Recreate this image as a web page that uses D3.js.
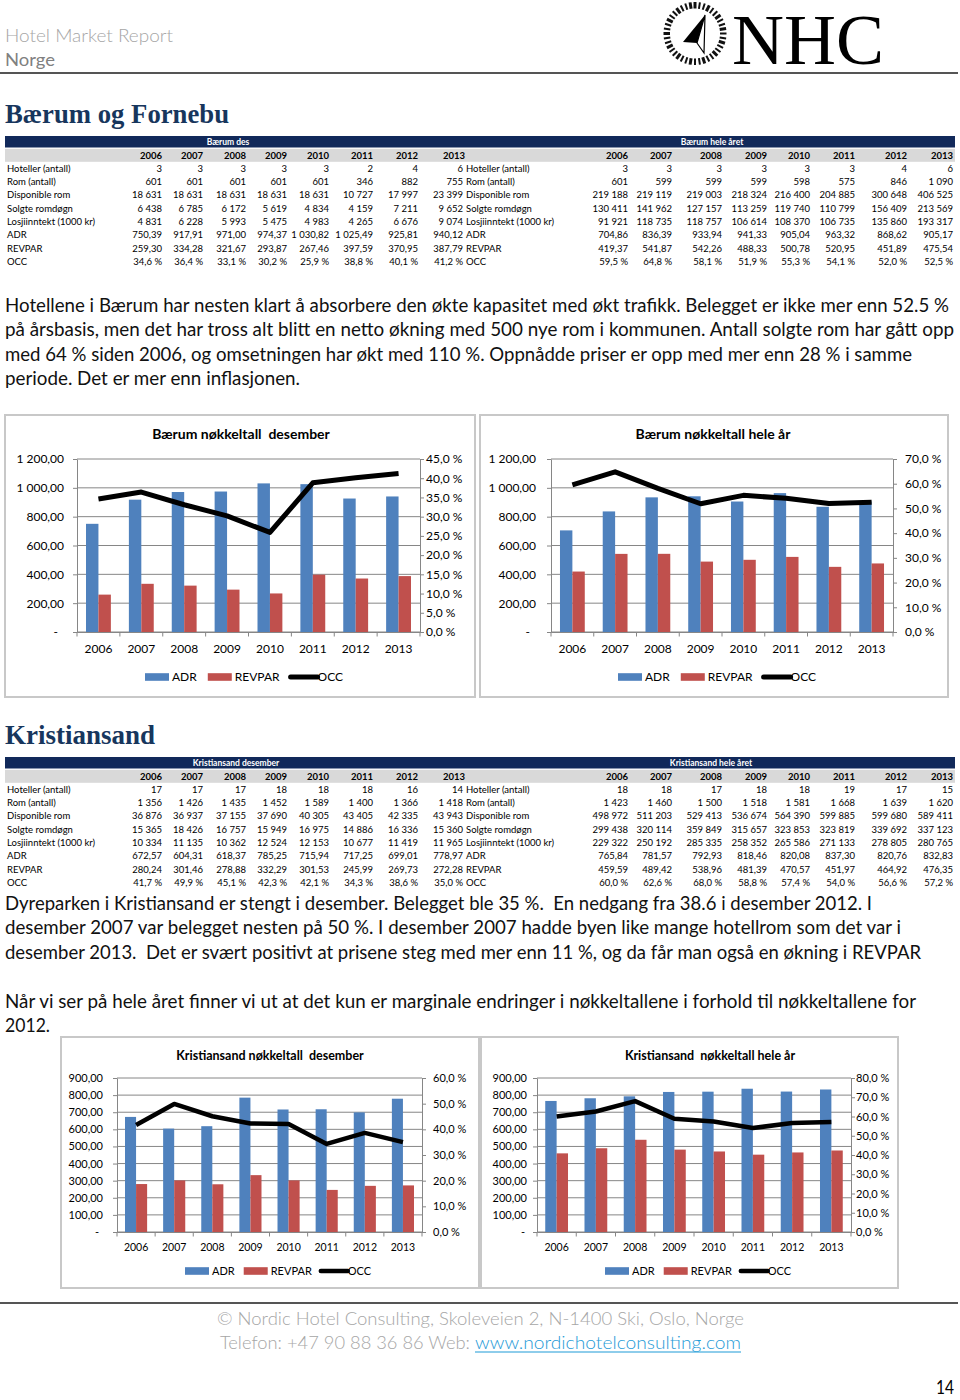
<!DOCTYPE html>
<html><head><meta charset="utf-8">
<script src="https://cdn.jsdelivr.net/npm/d3@7"></script>
<style>
body{margin:0;background:#fff}
svg{display:block}
text{font-family:Lato,"Open Sans",sans-serif;white-space:pre}
</style>
</head><body>
<svg id="page" width="960" height="1400"></svg>
<script>
// ---------------- DATA ----------------
const years = [2006, 2007, 2008, 2009, 2010, 2011, 2012, 2013];
const rowLabels = ["Hoteller (antall)", "Rom (antall)", "Disponible rom", "Solgte romdøgn", "Losjiinntekt (1000 kr)", "ADR", "REVPAR", "OCC"];

// Bærum desember
const bdHotels = [3, 3, 3, 3, 3, 2, 4, 6];
const bdRooms = [601, 601, 601, 601, 601, 346, 882, 755];
const bdAvail = [18631, 18631, 18631, 18631, 18631, 10727, 17997, 23399];
const bdSold = [6438, 6785, 6172, 5619, 4834, 4159, 7211, 9652];
const bdRevenue = [4831, 6228, 5993, 5475, 4983, 4265, 6676, 9074];
const bdADR = [750.39, 917.91, 971.00, 974.37, 1030.82, 1025.49, 925.81, 940.12];
const bdREVPAR = [259.30, 334.28, 321.67, 293.87, 267.46, 397.59, 370.95, 387.79];
const bdOCC = [34.6, 36.4, 33.1, 30.2, 25.9, 38.8, 40.1, 41.2];

// Bærum hele året
const byHotels = [3, 3, 3, 3, 3, 3, 4, 6];
const byRooms = [601, 599, 599, 599, 598, 575, 846, 1090];
const byAvail = [219188, 219119, 219003, 218324, 216400, 204885, 300648, 406525];
const bySold = [130411, 141962, 127157, 113259, 119740, 110799, 156409, 213569];
const byRevenue = [91921, 118735, 118757, 106614, 108370, 106735, 135860, 193317];
const byADR = [704.86, 836.39, 933.94, 941.33, 905.04, 963.32, 868.62, 905.17];
const byREVPAR = [419.37, 541.87, 542.26, 488.33, 500.78, 520.95, 451.89, 475.54];
const byOCC = [59.5, 64.8, 58.1, 51.9, 55.3, 54.1, 52.0, 52.5];

// Kristiansand desember
const kdHotels = [17, 17, 17, 18, 18, 18, 16, 14];
const kdRooms = [1356, 1426, 1435, 1452, 1589, 1400, 1366, 1418];
const kdAvail = [36876, 36937, 37155, 37690, 40305, 43405, 42335, 43943];
const kdSold = [15365, 18426, 16757, 15949, 16975, 14886, 16336, 15360];
const kdRevenue = [10334, 11135, 10362, 12524, 12153, 10677, 11419, 11965];
const kdADR = [672.57, 604.31, 618.37, 785.25, 715.94, 717.25, 699.01, 778.97];
const kdREVPAR = [280.24, 301.46, 278.88, 332.29, 301.53, 245.99, 269.73, 272.28];
const kdOCC = [41.7, 49.9, 45.1, 42.3, 42.1, 34.3, 38.6, 35.0];

// Kristiansand hele året
const kyHotels = [18, 18, 17, 18, 18, 19, 17, 15];
const kyRooms = [1423, 1460, 1500, 1518, 1581, 1668, 1639, 1620];
const kyAvail = [498972, 511203, 529413, 536674, 564390, 599885, 599680, 589411];
const kySold = [299438, 320114, 359849, 315657, 323853, 323819, 339692, 337123];
const kyRevenue = [229322, 250192, 285335, 258352, 265586, 271133, 278805, 280765];
const kyADR = [765.84, 781.57, 792.93, 818.46, 820.08, 837.30, 820.76, 832.83];
const kyREVPAR = [459.59, 489.42, 538.96, 481.39, 470.57, 451.97, 464.92, 476.35];
const kyOCC = [60.0, 62.6, 68.0, 58.8, 57.4, 54.0, 56.6, 57.2];

// Axis ticks
const yTicksBaerum = [0, 200, 400, 600, 800, 1000, 1200];
const y2TicksBaerumDes = [0, 5, 10, 15, 20, 25, 30, 35, 40, 45];
const y2TicksBaerumYear = [0, 10, 20, 30, 40, 50, 60, 70];
const yTicksKrs = [0, 100, 200, 300, 400, 500, 600, 700, 800, 900];
const y2TicksKrsDes = [0, 10, 20, 30, 40, 50, 60];
const y2TicksKrsYear = [0, 10, 20, 30, 40, 50, 60, 70, 80];
const seriesNames = ["ADR", "REVPAR", "OCC"];

// Texts
const para1 = [
  "Hotellene i Bærum har nesten klart å absorbere den økte kapasitet med økt trafikk. Belegget er ikke mer enn 52.5 %",
  "på årsbasis, men det har tross alt blitt en netto økning med 500 nye rom i kommunen. Antall solgte rom har gått opp",
  "med 64 % siden 2006, og omsetningen har økt med 110 %. Oppnådde priser er opp med mer enn 28 % i samme",
  "periode. Det er mer enn inflasjonen."
];
const para2 = [
  "Dyreparken i Kristiansand er stengt i desember. Belegget ble 35 %.  En nedgang fra 38.6 i desember 2012. I",
  "desember 2007 var belegget nesten på 50 %. I desember 2007 hadde byen like mange hotellrom som det var i",
  "desember 2013.  Det er svært positivt at prisene steg med mer enn 11 %, og da får man også en økning i REVPAR",
  "",
  "Når vi ser på hele året finner vi ut at det kun er marginale endringer i nøkkeltallene i forhold til nøkkeltallene for",
  "2012."
];

// ---------------- FORMATS ----------------
const loc = d3.formatLocale({decimal: ",", thousands: "\u00a0", grouping: [3], currency: ["", ""]});
const fInt = loc.format(",d");
const f2 = loc.format(",.2f");
const f1 = loc.format(",.1f");
const fPct = v => f1(v) + "\u00a0%";
const rowFormats = [fInt, fInt, fInt, fInt, fInt, f2, f2, fPct];

const svg = d3.select("#page");
svg.append("rect").attr("width", 960).attr("height", 1400).attr("fill", "#fff");

// ---------------- HEADER ----------------
svg.append("text").attr("x", 5).attr("y", 42).attr("font-size", 18).attr("font-weight", 300)
  .attr("fill", "#A6A6A6").attr("textLength", 168).attr("lengthAdjust", "spacingAndGlyphs").text("Hotel Market Report");
svg.append("text").attr("x", 5).attr("y", 66).attr("font-size", 18)
  .attr("fill", "#808080").attr("textLength", 50).attr("lengthAdjust", "spacingAndGlyphs").text("Norge");
svg.append("line").attr("x1", 0).attr("x2", 958).attr("y1", 73).attr("y2", 73).attr("stroke", "#555").attr("stroke-width", 2);

// logo
const logo = svg.append("g");
const cx0 = 695, cy0 = 33.5;
d3.range(40).forEach(i => {
  const a = i / 40 * 2 * Math.PI;
  const w = (i % 3 === 0) ? 3 : 2;
  logo.append("line")
    .attr("x1", cx0 + 25 * Math.sin(a)).attr("y1", cy0 - 25 * Math.cos(a))
    .attr("x2", cx0 + 31.5 * Math.sin(a)).attr("y2", cy0 - 31.5 * Math.cos(a))
    .attr("stroke", "#111").attr("stroke-width", w);
});
logo.append("path").attr("d", "M705,15 L683,42 L697,43 Z").attr("fill", "#000");
logo.append("path").attr("d", "M705,15 L697,43 L704,53 Z").attr("fill", "none").attr("stroke", "#000").attr("stroke-width", 1.2);
logo.append("text").attr("x", 732).attr("y", 64).attr("font-size", 72)
  .attr("fill", "#000").attr("textLength", 152).attr("lengthAdjust", "spacingAndGlyphs")
  .style("font-family", "'Liberation Serif',serif").text("NHC");

// ---------------- SECTION TITLES ----------------
function sectionTitle(txt, y, w) {
  svg.append("text").attr("x", 5).attr("y", y).attr("font-size", 27).attr("font-weight", 700)
    .style("font-family", "'Liberation Serif','DejaVu Serif',serif").attr("fill", "#17365D")
    .attr("textLength", w).attr("lengthAdjust", "spacingAndGlyphs").text(txt);
}
sectionTitle("Bærum og Fornebu", 123, 224);
sectionTitle("Kristiansand", 744, 150);

// ---------------- TABLES ----------------
const leftCols = [162, 203, 246, 287, 329, 373, 418, 463];
const rightCols = [628, 672, 722, 767, 810, 855, 907, 953];

function drawTable(y0, leftTitle, leftTitleX, rightTitle, rightTitleX, leftData, rightData) {
  const g = svg.append("g");
  g.append("rect").attr("x", 5).attr("y", y0).attr("width", 950).attr("height", 11.5).attr("fill", "#11295A");
  g.append("rect").attr("x", 5).attr("y", y0 + 12.8).attr("width", 950).attr("height", 13).attr("fill", "#D9D9D9");
  g.append("text").attr("x", leftTitleX).attr("y", y0 + 8.8).attr("text-anchor", "middle").attr("font-size", 8.5)
    .attr("font-weight", 700).attr("fill", "#fff").text(leftTitle);
  g.append("text").attr("x", rightTitleX).attr("y", y0 + 8.8).attr("text-anchor", "middle").attr("font-size", 8.5)
    .attr("font-weight", 700).attr("fill", "#fff").text(rightTitle);
  const yy = y0 + 23;
  years.forEach((yr, i) => {
    g.append("text").attr("x", leftCols[i] + (i === 7 ? 2 : 0)).attr("y", yy).attr("text-anchor", "end")
      .attr("font-size", 9.5).attr("font-weight", 700).attr("fill", "#000").text(yr);
    g.append("text").attr("x", rightCols[i]).attr("y", yy).attr("text-anchor", "end")
      .attr("font-size", 9.5).attr("font-weight", 700).attr("fill", "#000").text(yr);
  });
  rowLabels.forEach((lab, r) => {
    const by = y0 + 35.6 + r * 13.35;
    g.append("text").attr("x", 7).attr("y", by).attr("font-size", 9.5).attr("fill", "#000").text(lab);
    g.append("text").attr("x", 466).attr("y", by).attr("font-size", 9.5).attr("fill", "#000").text(lab);
    leftData[r].forEach((v, i) => {
      g.append("text").attr("x", leftCols[i]).attr("y", by).attr("text-anchor", "end")
        .attr("font-size", 9.5).attr("fill", "#000").text(rowFormats[r](v));
    });
    rightData[r].forEach((v, i) => {
      g.append("text").attr("x", rightCols[i]).attr("y", by).attr("text-anchor", "end")
        .attr("font-size", 9.5).attr("fill", "#000").text(rowFormats[r](v));
    });
  });
}
drawTable(136, "Bærum des", 228, "Bærum hele året", 712,
  [bdHotels, bdRooms, bdAvail, bdSold, bdRevenue, bdADR, bdREVPAR, bdOCC],
  [byHotels, byRooms, byAvail, bySold, byRevenue, byADR, byREVPAR, byOCC]);
drawTable(757, "Kristiansand desember", 236, "Kristiansand hele året", 711,
  [kdHotels, kdRooms, kdAvail, kdSold, kdRevenue, kdADR, kdREVPAR, kdOCC],
  [kyHotels, kyRooms, kyAvail, kySold, kyRevenue, kyADR, kyREVPAR, kyOCC]);

// ---------------- PARAGRAPHS ----------------
function paragraph(lines, y0, widths) {
  lines.forEach((ln, i) => {
    if (!ln) return;
    svg.append("text").attr("x", 5).attr("y", y0 + i * 24.4).attr("font-size", 18.5).attr("fill", "#111")
      .attr("textLength", widths[i]).attr("lengthAdjust", "spacingAndGlyphs").text(ln);
  });
}
paragraph(para1, 312, [944, 949, 907, 295]);
paragraph(para2, 910, [867, 896, 916, 0, 911, 45]);

// ---------------- CHARTS ----------------
const blue = "#4F81BD", red = "#C0504D", axisCol = "#868686";

function drawChart(c) {
  const g = svg.append("g");
  g.append("rect").attr("x", c.box[0]).attr("y", c.box[1]).attr("width", c.box[2] - c.box[0]).attr("height", c.box[3] - c.box[1])
    .attr("fill", "#fff").attr("stroke", "#C8C8C8").attr("stroke-width", 2);
  const [L, T, R, B] = c.plot;
  const x = d3.scaleBand().domain(years).range([L, R]).paddingInner(0.42).paddingOuter(0.21);
  const x1 = d3.scaleBand().domain(["ADR", "REVPAR"]).range([0, x.bandwidth()]);
  const y = d3.scaleLinear().domain([0, d3.max(c.yTicks)]).range([B, T]);
  const y2 = d3.scaleLinear().domain([0, d3.max(c.y2Ticks)]).range([B, T]);

  // title
  g.append("text").attr("x", c.titleX).attr("y", c.titleY).attr("text-anchor", "middle")
    .attr("font-size", c.titleFs).attr("font-weight", 700).attr("fill", "#000").text(c.title);

  // gridlines
  g.selectAll("line.grid").data(c.yTicks).join("line").attr("class", "grid")
    .attr("x1", L).attr("x2", R).attr("y1", d => y(d)).attr("y2", d => y(d))
    .attr("stroke", axisCol).attr("stroke-width", 1);

  // bars
  const data = years.map((yr, i) => ({yr, ADR: c.adr[i], REVPAR: c.revpar[i]}));
  const grp = g.selectAll("g.cat").data(data).join("g").attr("transform", d => `translate(${x(d.yr)},0)`);
  grp.selectAll("rect").data(d => ["ADR", "REVPAR"].map(k => ({k, v: d[k]}))).join("rect")
    .attr("x", d => x1(d.k)).attr("width", x1.bandwidth())
    .attr("y", d => y(d.v)).attr("height", d => B - y(d.v))
    .attr("fill", d => d.k === "ADR" ? blue : red);

  // left axis
  const ax = g.append("g").attr("transform", `translate(${L},0)`)
    .call(d3.axisLeft(y).tickValues(c.yTicks).tickSize(4).tickSizeOuter(0).tickPadding(c.leftPad)
      .tickFormat(v => v === 0 ? "-" : f2(v)));
  ax.selectAll(".tick text").filter(d => d === 0).attr("dx", c.dashDx);
  // right axis
  const ax2 = g.append("g").attr("transform", `translate(${R},0)`)
    .call(d3.axisRight(y2).tickValues(c.y2Ticks).tickSize(4).tickSizeOuter(0).tickPadding(c.rightPad)
      .tickFormat(fPct));
  // bottom axis
  const ax3 = g.append("g").attr("transform", `translate(0,${B})`)
    .call(d3.axisBottom(x).tickSize(0).tickSizeOuter(0).tickPadding(c.xPad));
  [ax, ax2, ax3].forEach(a => {
    a.select(".domain").attr("stroke", axisCol).attr("stroke-width", 1);
    a.selectAll(".tick line").attr("stroke", axisCol);
    a.selectAll(".tick text").attr("fill", "#000").style("font-family", "Lato,sans-serif");
  });
  ax.selectAll(".tick text").attr("font-size", c.fs);
  ax2.selectAll(".tick text").attr("font-size", c.fs);
  ax3.selectAll(".tick text").attr("font-size", c.xfs);
  // category boundary ticks
  const off = (x.step() - x.bandwidth()) / 2;
  const bounds = years.map(yr => x(yr) - off).concat([x(years[years.length - 1]) + x.bandwidth() + off]);
  g.selectAll("line.xt").data(bounds).join("line").attr("class", "xt")
    .attr("x1", d => d).attr("x2", d => d).attr("y1", B).attr("y2", B + 4.5).attr("stroke", axisCol);

  // OCC line
  const line = d3.line().x((d, i) => x(years[i]) + x.bandwidth() / 2).y(d => y2(d));
  g.append("path").datum(c.occ).attr("d", line).attr("fill", "none").attr("stroke", "#000")
    .attr("stroke-width", c.lineW).attr("stroke-linejoin", "round").attr("stroke-linecap", "butt");

  // legend
  let lx = c.legendX;
  const ly = c.legendY;
  seriesNames.forEach((s) => {
    if (s === "OCC") {
      g.append("line").attr("x1", lx).attr("x2", lx + c.swW + 3).attr("y1", ly).attr("y2", ly)
        .attr("stroke", "#000").attr("stroke-width", c.lineW).attr("stroke-linecap", "round");
    } else {
      g.append("rect").attr("x", lx).attr("y", ly - 3.8).attr("width", c.swW).attr("height", 7.6)
        .attr("fill", s === "ADR" ? blue : red);
    }
    const t = g.append("text").attr("x", lx + c.swW + 3).attr("y", ly + c.fs * 0.36)
      .attr("font-size", c.fs).attr("fill", "#000").text(s);
    lx = lx + c.swW + 3 + t.node().getComputedTextLength() + c.legGap;
  });
}

drawChart({
  box: [5, 415, 475, 697], plot: [77, 459, 420, 632],
  title: "Bærum nøkkeltall  desember", titleX: 241, titleY: 439, titleFs: 14,
  yTicks: yTicksBaerum, y2Ticks: y2TicksBaerumDes,
  adr: bdADR, revpar: bdREVPAR, occ: bdOCC,
  fs: 12, xfs: 12, leftPad: 9, rightPad: 2, xPad: 12, dashDx: -6,
  lineW: 5, legendX: 145, legendY: 677, swW: 24, legGap: 11
});
drawChart({
  box: [480, 415, 948, 697], plot: [551, 459, 893, 632],
  title: "Bærum nøkkeltall hele år", titleX: 713, titleY: 439, titleFs: 14,
  yTicks: yTicksBaerum, y2Ticks: y2TicksBaerumYear,
  adr: byADR, revpar: byREVPAR, occ: byOCC,
  fs: 12, xfs: 12, leftPad: 11, rightPad: 8, xPad: 12, dashDx: -6,
  lineW: 5, legendX: 618, legendY: 677, swW: 24, legGap: 11
});
drawChart({
  box: [61, 1037, 479, 1288], plot: [117, 1078, 422, 1232],
  title: "Kristiansand nøkkeltall  desember", titleX: 270, titleY: 1060, titleFs: 12.5,
  yTicks: yTicksKrs, y2Ticks: y2TicksKrsDes,
  adr: kdADR, revpar: kdREVPAR, occ: kdOCC,
  fs: 11, xfs: 10.5, leftPad: 10, rightPad: 7, xPad: 11.5, dashDx: -4,
  lineW: 4.5, legendX: 185, legendY: 1271, swW: 24, legGap: 9
});
drawChart({
  box: [481, 1037, 898, 1288], plot: [537, 1078, 851, 1232],
  title: "Kristiansand  nøkkeltall hele år", titleX: 710, titleY: 1060, titleFs: 12.5,
  yTicks: yTicksKrs, y2Ticks: y2TicksKrsYear,
  adr: kyADR, revpar: kyREVPAR, occ: kyOCC,
  fs: 11, xfs: 10.5, leftPad: 6, rightPad: 1, xPad: 11.5, dashDx: -2,
  lineW: 4.5, legendX: 605, legendY: 1271, swW: 24, legGap: 9
});

// ---------------- FOOTER ----------------
svg.append("line").attr("x1", 0).attr("x2", 958).attr("y1", 1303).attr("y2", 1303).attr("stroke", "#555").attr("stroke-width", 2);
svg.append("text").attr("x", 217).attr("y", 1325).attr("font-size", 18.5).attr("font-weight", 300).attr("fill", "#A6A6A6")
  .attr("textLength", 527).attr("lengthAdjust", "spacingAndGlyphs").text("© Nordic Hotel Consulting, Skoleveien 2, N-1400 Ski, Oslo, Norge");
svg.append("text").attr("x", 220).attr("y", 1349).attr("font-size", 18.5).attr("font-weight", 300).attr("fill", "#A6A6A6")
  .attr("textLength", 250).attr("lengthAdjust", "spacingAndGlyphs").text("Telefon: +47 90 88 36 86 Web:");
svg.append("text").attr("x", 475).attr("y", 1349).attr("font-size", 18.5).attr("font-weight", 300).attr("fill", "#1F9BD7")
  .attr("textLength", 266).attr("lengthAdjust", "spacingAndGlyphs").text("www.nordichotelconsulting.com");
svg.append("line").attr("x1", 475).attr("x2", 741).attr("y1", 1352).attr("y2", 1352).attr("stroke", "#1F9BD7").attr("stroke-width", 1.2);
svg.append("text").attr("x", 954).attr("y", 1394).attr("text-anchor", "end").attr("font-size", 19).attr("fill", "#000")
  .attr("textLength", 18).attr("lengthAdjust", "spacingAndGlyphs").text("14");
</script>
</body></html>
